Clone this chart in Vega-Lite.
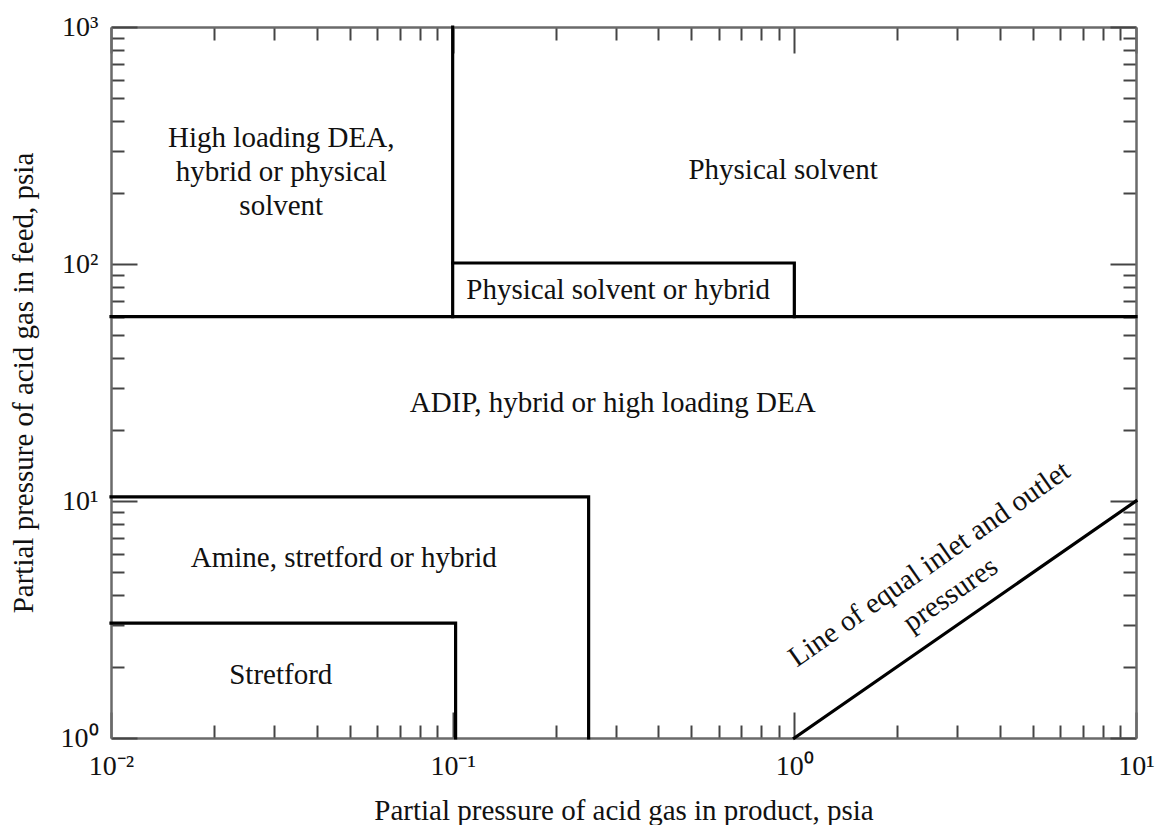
{
  "$schema": "https://vega.github.io/schema/vega-lite/v6.json",
  "width": 1025,
  "height": 711,
  "autosize": "none",
  "padding": {"left": 111, "top": 27, "right": 22, "bottom": 87},
  "background": "white",
  "config": {
    "view": {"stroke": null},
    "font": "Liberation Serif",
    "axis": {
      "grid": false,
      "domainColor": "#6a6a6a",
      "domainWidth": 2.5,
      "tickColor": "#444444",
      "tickWidth": 2,
      "labelFont": "Liberation Serif",
      "labelFontSize": 28,
      "labelColor": "#111111",
      "labelOverlap": false,
      "labelFlush": false,
      "labelBound": false,
      "titleFont": "Liberation Serif",
      "titleFontSize": 29,
      "titleFontWeight": "normal",
      "titleColor": "#111111"
    }
  },
  "datasets": {
    "lines": [
      {"seg": "A", "ord": 1, "x": 0.1, "y": 1000},
      {"seg": "A", "ord": 2, "x": 0.1, "y": 60},
      {"seg": "B", "ord": 1, "x": 0.01, "y": 60},
      {"seg": "B", "ord": 2, "x": 10, "y": 60},
      {"seg": "C", "ord": 1, "x": 0.1, "y": 101},
      {"seg": "C", "ord": 2, "x": 1, "y": 101},
      {"seg": "C", "ord": 3, "x": 1, "y": 60},
      {"seg": "D", "ord": 1, "x": 0.01, "y": 10.4},
      {"seg": "D", "ord": 2, "x": 0.25, "y": 10.4},
      {"seg": "D", "ord": 3, "x": 0.25, "y": 1},
      {"seg": "E", "ord": 1, "x": 0.01, "y": 3.05},
      {"seg": "E", "ord": 2, "x": 0.102, "y": 3.05},
      {"seg": "E", "ord": 3, "x": 0.102, "y": 1},
      {"seg": "F", "ord": 1, "x": 1, "y": 1},
      {"seg": "F", "ord": 2, "x": 10, "y": 10}
    ],
    "labels": [
      {"x": 0.0315, "y": 340, "label": "High loading DEA,\nhybrid or physical\nsolvent"},
      {"x": 0.927, "y": 249, "label": "Physical solvent"},
      {"x": 0.305, "y": 77.7, "label": "Physical solvent or hybrid"},
      {"x": 0.294, "y": 25.9, "label": "ADIP, hybrid or high loading DEA"},
      {"x": 0.048, "y": 5.75, "label": "Amine, stretford or hybrid"},
      {"x": 0.0314, "y": 1.845, "label": "Stretford"}
    ],
    "rotated": [
      {"x": 2.48, "y": 5.42, "label": "Line of equal inlet and outlet\npressures"}
    ]
  },
  "resolve": {"axis": {"x": "independent", "y": "independent"}},
  "layer": [
    {
      "data": {"name": "lines"},
      "mark": {"type": "line", "color": "black", "strokeWidth": 3.2, "strokeCap": "square", "strokeJoin": "miter"},
      "encoding": {
        "x": {
          "field": "x", "type": "quantitative",
          "scale": {"type": "log", "domain": [0.01, 10], "nice": false},
          "axis": {
            "orient": "bottom",
            "title": "Partial pressure of acid gas in product, psia",
            "titlePadding": 16,
            "values": [0.01,0.02,0.03,0.04,0.05,0.06,0.07,0.08,0.09,0.1,0.2,0.3,0.4,0.5,0.6,0.7,0.8,0.9,1,2,3,4,5,6,7,8,9,10],
            "labelExpr": "datum.value==0.01?'10⁻²':datum.value==0.1?'10⁻¹':datum.value==1?'10⁰':datum.value==10?'10¹':''",
            "tickSize": {"condition": {"test": "indexof([0.01,0.1,1,10], datum.value) >= 0", "value": -26}, "value": -13},
            "labelPadding": {"condition": {"test": "indexof([0.01,0.1,1,10], datum.value) >= 0", "value": 40}, "value": 27}
          }
        },
        "y": {
          "field": "y", "type": "quantitative",
          "scale": {"type": "log", "domain": [1, 1000], "nice": false},
          "axis": {
            "orient": "left",
            "title": "Partial pressure of acid gas in feed, psia",
            "titlePadding": 22,
            "values": [1,2,3,4,5,6,7,8,9,10,20,30,40,50,60,70,80,90,100,200,300,400,500,600,700,800,900,1000],
            "labelExpr": "datum.value==1?'10⁰':datum.value==10?'10¹':datum.value==100?'10²':datum.value==1000?'10³':''",
            "tickSize": {"condition": {"test": "indexof([1,10,100,1000], datum.value) >= 0", "value": -26}, "value": -13},
            "labelPadding": {"condition": {"test": "indexof([1,10,100,1000], datum.value) >= 0", "value": 39}, "value": 26}
          }
        },
        "detail": {"field": "seg"},
        "order": {"field": "ord"}
      }
    },
    {
      "data": {"name": "labels"},
      "mark": {"type": "text", "font": "Liberation Serif", "fontSize": 29, "color": "#111111", "align": "center", "baseline": "middle", "lineBreak": "\n", "lineHeight": 34},
      "encoding": {
        "x": {
          "field": "x", "type": "quantitative",
          "scale": {"type": "log", "domain": [0.01, 10], "nice": false},
          "axis": {
            "orient": "top", "title": null, "labels": false,
            "values": [0.01,0.02,0.03,0.04,0.05,0.06,0.07,0.08,0.09,0.1,0.2,0.3,0.4,0.5,0.6,0.7,0.8,0.9,1,2,3,4,5,6,7,8,9,10],
            "tickSize": {"condition": {"test": "indexof([0.01,0.1,1,10], datum.value) >= 0", "value": -26}, "value": -13}
          }
        },
        "y": {
          "field": "y", "type": "quantitative",
          "scale": {"type": "log", "domain": [1, 1000], "nice": false},
          "axis": {
            "orient": "right", "title": null, "labels": false,
            "values": [1,2,3,4,5,6,7,8,9,10,20,30,40,50,60,70,80,90,100,200,300,400,500,600,700,800,900,1000],
            "tickSize": {"condition": {"test": "indexof([1,10,100,1000], datum.value) >= 0", "value": -26}, "value": -13}
          }
        },
        "text": {"field": "label"}
      }
    },
    {
      "data": {"name": "rotated"},
      "mark": {"type": "text", "font": "Liberation Serif", "fontSize": 29, "color": "#111111", "align": "center", "baseline": "middle", "lineBreak": "\n", "lineHeight": 37, "angle": 325},
      "encoding": {
        "x": {"field": "x", "type": "quantitative", "scale": {"type": "log", "domain": [0.01, 10], "nice": false}, "axis": null},
        "y": {"field": "y", "type": "quantitative", "scale": {"type": "log", "domain": [1, 1000], "nice": false}, "axis": null},
        "text": {"field": "label"}
      }
    }
  ]
}
